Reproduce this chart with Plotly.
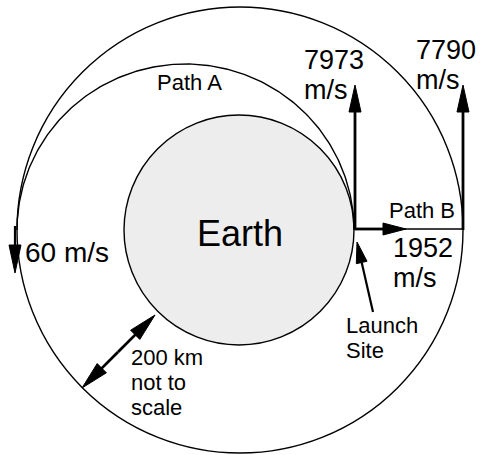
import numpy as np
import plotly.graph_objects as go

# ---- diagram values (pixel-like data units, y grows downward) ----
earth_center = [239, 230]
earth_radius = 115
orbit_radius = 223
orbit_center = [240, 230]
pathA_center = [185.5, 230]
pathA_axes = [168.5, 166]

velocity_labels = ["7973", "7790", "1952", "60 m/s"]
# arrows: [x_tail, y_tail, x_tip, y_tip, head_len, head_w]
arrow_7973 = [355, 230, 355, 85, 27, 12]
arrow_7790 = [463, 230, 463, 85, 27, 12]
arrow_1952 = [355, 229, 406, 229, 23, 12]
arrow_60 = [15, 226, 15, 273, 28, 12]
arrow_launch = [373, 312, 357, 242, 21, 11]
arrow_200a = [118, 352, 155, 315, 28, 13]
arrow_200b = [118, 352, 82, 388, 28, 13]
pathB_line = [355, 229, 463, 229]

# text labels: [text, x, baseline_y, size, anchor]
labels = [
    ["Path A", 189, 90, 22, "center"],
    ["7973", 303, 69, 27, "left"],
    ["m/s", 303, 99, 27, "left"],
    ["7790", 415, 59, 27, "left"],
    ["m/s", 415, 89, 27, "left"],
    ["Path B", 388, 218, 22, "left"],
    ["1952", 392, 257, 27, "left"],
    ["m/s", 392, 287, 27, "left"],
    ["60 m/s", 24, 262, 28, "left"],
    ["Earth", 239.5, 246, 36, "center"],
    ["200 km", 130, 365, 22, "left"],
    ["not to", 130, 390, 22, "left"],
    ["scale", 130, 415, 22, "left"],
    ["Launch", 345, 333, 22, "left"],
    ["Site", 345, 358, 22, "left"],
]

fig = go.Figure()

# Path A (upper half of transfer ellipse)
t = np.linspace(0, np.pi, 200)
fig.add_trace(go.Scatter(
    x=pathA_center[0] + pathA_axes[0] * np.cos(t),
    y=pathA_center[1] - pathA_axes[1] * np.sin(t),
    mode="lines", line=dict(color="black", width=1.4),
    hoverinfo="skip", showlegend=False))

shapes = []
# outer orbit
shapes.append(dict(type="circle", xref="x", yref="y",
                   x0=orbit_center[0] - orbit_radius, x1=orbit_center[0] + orbit_radius,
                   y0=orbit_center[1] - orbit_radius, y1=orbit_center[1] + orbit_radius,
                   line=dict(color="black", width=1.4), layer="below"))
# earth
shapes.append(dict(type="circle", xref="x", yref="y",
                   x0=earth_center[0] - earth_radius, x1=earth_center[0] + earth_radius,
                   y0=earth_center[1] - earth_radius, y1=earth_center[1] + earth_radius,
                   fillcolor="#ededed", line=dict(color="black", width=1.4), layer="below"))
# path B thin line
shapes.append(dict(type="line", xref="x", yref="y",
                   x0=pathB_line[0], y0=pathB_line[1], x1=pathB_line[2], y1=pathB_line[3],
                   line=dict(color="black", width=1.6)))


def arrow(a, width=2.8, shaft=True):
    x0, y0, x1, y1, hl, hw = a
    dx, dy = x1 - x0, y1 - y0
    L = (dx * dx + dy * dy) ** 0.5
    ux, uy = dx / L, dy / L
    px, py = -uy, ux
    bx, by = x1 - ux * hl, y1 - uy * hl
    if shaft:
        shapes.append(dict(type="line", xref="x", yref="y", x0=x0, y0=y0,
                           x1=bx + ux * 2, y1=by + uy * 2,
                           line=dict(color="black", width=width)))
    p = "M{:.2f},{:.2f} L{:.2f},{:.2f} L{:.2f},{:.2f} Z".format(
        x1, y1, bx + px * hw / 2, by + py * hw / 2, bx - px * hw / 2, by - py * hw / 2)
    shapes.append(dict(type="path", xref="x", yref="y", path=p,
                       fillcolor="black", line=dict(color="black", width=1)))


arrow(arrow_7973)
arrow(arrow_7790)
arrow(arrow_1952)
arrow(arrow_60, width=2.2)
arrow(arrow_launch, width=2.2)
arrow(arrow_200a)
arrow(arrow_200b)

annotations = []
for txt, x, base, size, anchor in labels:
    annotations.append(dict(
        text=txt, x=x, y=base - 0.35 * size, xref="x", yref="y",
        xanchor=anchor, yanchor="middle", showarrow=False,
        font=dict(family="Liberation Sans, Arial, Helvetica, sans-serif", size=size, color="black"),
        borderpad=0))

fig.update_layout(
    width=480, height=455,
    margin=dict(l=0, r=0, t=0, b=0),
    paper_bgcolor="white", plot_bgcolor="white",
    xaxis=dict(range=[0, 480], visible=False, fixedrange=True),
    yaxis=dict(range=[455, 0], visible=False, fixedrange=True),
    shapes=shapes, annotations=annotations, showlegend=False,
)

fig.write_html("out.html", config={"displayModeBar": False},
               post_script="document.body.style.margin='0';document.body.style.overflow='hidden';")
